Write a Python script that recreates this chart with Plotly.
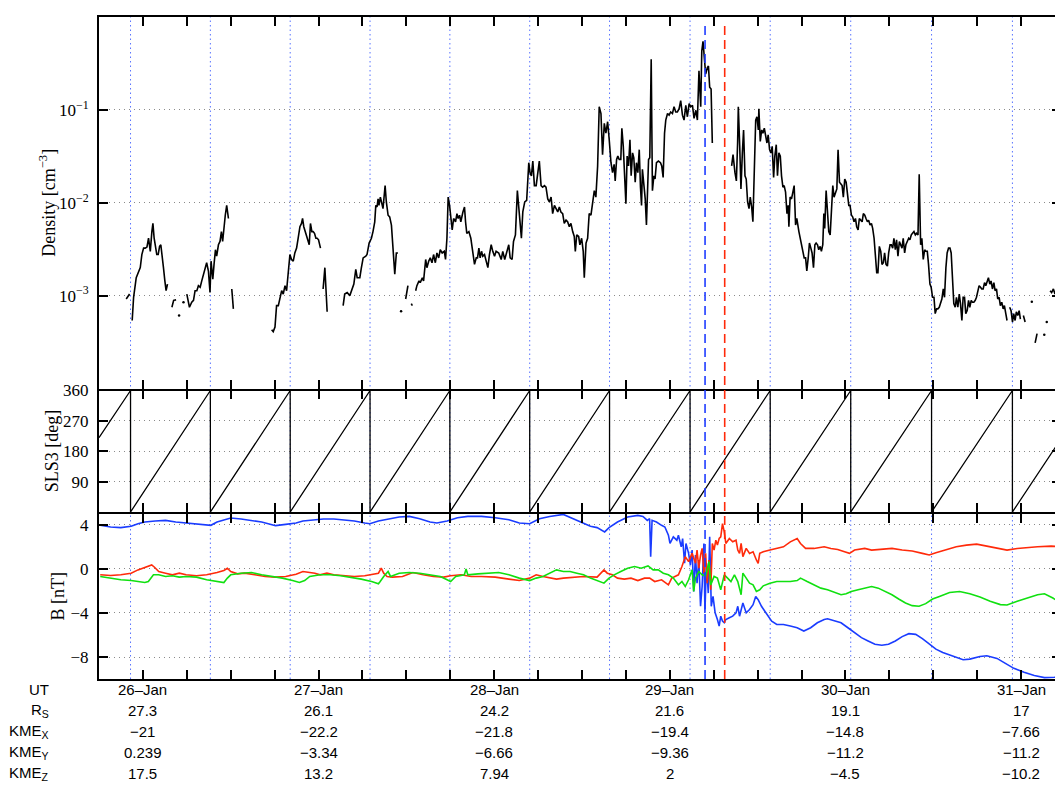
import plotly.graph_objects as go

# ---------------- data (time in day-of-January, UT) ----------------
# Density [cm^-3], one inner list per continuous stretch of data
density_time = [
    [25.905, 25.924],
    [25.939, 25.947, 25.962, 25.975, 25.985, 25.994, 26.004, 26.013, 26.023, 26.032,
     26.042, 26.051, 26.057, 26.064, 26.072, 26.079, 26.087, 26.095, 26.102, 26.110,
     26.117, 26.125, 26.132, 26.140],
    [26.165, 26.175, 26.189],
    [26.250, 26.265, 26.278, 26.288, 26.297, 26.307, 26.316, 26.326, 26.335, 26.345,
     26.354, 26.363, 26.373, 26.382, 26.388, 26.398, 26.405, 26.413, 26.420, 26.430,
     26.439, 26.447, 26.454, 26.462, 26.469, 26.477, 26.487],
    [26.506, 26.515],
    [26.733, 26.742, 26.752, 26.761, 26.771, 26.780, 26.790, 26.799, 26.809, 26.818,
     26.828, 26.837, 26.846, 26.856, 26.865, 26.875, 26.884, 26.894, 26.903, 26.909,
     26.916, 26.924, 26.932, 26.939, 26.947, 26.954, 26.962, 26.969, 26.977, 26.985,
     26.992, 27.000, 27.011],
    [27.026, 27.036, 27.049],
    [27.140, 27.149, 27.163, 27.178, 27.201, 27.212, 27.220, 27.235, 27.244, 27.254,
     27.269, 27.276, 27.288, 27.301, 27.310, 27.320, 27.326, 27.333, 27.339, 27.344,
     27.352, 27.360, 27.367, 27.379, 27.386, 27.396, 27.405, 27.415, 27.424, 27.434,
     27.443, 27.452],
    [27.496, 27.509],
    [27.528, 27.534],
    [27.553, 27.560, 27.572, 27.579, 27.591, 27.598, 27.610, 27.617, 27.627, 27.636,
     27.646, 27.655, 27.665, 27.674, 27.684, 27.693, 27.704, 27.716, 27.723, 27.731,
     27.738, 27.746, 27.754, 27.761, 27.769, 27.780, 27.788, 27.795, 27.803, 27.810,
     27.822, 27.831, 27.837, 27.844, 27.856, 27.867, 27.875, 27.888, 27.898, 27.905,
     27.913, 27.920, 27.928, 27.935, 27.945, 27.954, 27.964, 27.973, 27.983, 27.992,
     28.002, 28.011, 28.026, 28.040, 28.049, 28.060, 28.072, 28.083, 28.091, 28.102,
     28.110, 28.121, 28.132, 28.144, 28.155, 28.163, 28.174, 28.185, 28.197, 28.204,
     28.212, 28.220, 28.229, 28.239, 28.248, 28.257, 28.267, 28.276, 28.286, 28.295,
     28.305, 28.314, 28.324, 28.333, 28.343, 28.352, 28.362, 28.371, 28.380, 28.390,
     28.399, 28.409, 28.418, 28.428, 28.437, 28.447, 28.456, 28.462, 28.470, 28.481,
     28.488, 28.498, 28.507, 28.513, 28.523, 28.532, 28.541, 28.551, 28.560, 28.570,
     28.579, 28.589, 28.598, 28.608, 28.617, 28.627, 28.636, 28.646, 28.655, 28.665,
     28.674, 28.683, 28.689, 28.697, 28.704, 28.712, 28.721, 28.727, 28.735, 28.742,
     28.750, 28.757, 28.765, 28.773, 28.780, 28.788, 28.795, 28.803, 28.810, 28.818,
     28.826, 28.833, 28.839, 28.844, 28.852, 28.860, 28.867, 28.873, 28.879, 28.886,
     28.894, 28.901, 28.909, 28.916, 28.924, 28.935, 28.947, 28.954, 28.962, 28.970,
     28.977, 28.987, 28.996, 29.005, 29.015, 29.024, 29.034, 29.043, 29.053, 29.062,
     29.072, 29.081, 29.091, 29.100, 29.110, 29.119, 29.129, 29.138, 29.148, 29.157,
     29.166, 29.176, 29.182, 29.189, 29.195, 29.204, 29.214, 29.220, 29.227, 29.235,
     29.242],
    [29.352, 29.360, 29.371, 29.379, 29.386, 29.390, 29.398, 29.405, 29.413, 29.420,
     29.428, 29.435, 29.443, 29.451, 29.458, 29.466, 29.473, 29.481, 29.489, 29.496,
     29.504, 29.507, 29.515, 29.523, 29.530, 29.538, 29.545, 29.553, 29.560, 29.568,
     29.576, 29.583, 29.591, 29.598, 29.606, 29.613, 29.621, 29.629, 29.636, 29.644,
     29.651, 29.659, 29.667, 29.674, 29.678, 29.685, 29.693, 29.701, 29.708, 29.716,
     29.723, 29.735, 29.746, 29.757, 29.765, 29.773, 29.780, 29.788, 29.795, 29.803,
     29.810, 29.818, 29.826, 29.833, 29.841, 29.848, 29.856, 29.863, 29.871, 29.877,
     29.882, 29.890, 29.898, 29.905, 29.913, 29.920, 29.928, 29.935, 29.943, 29.951,
     29.958, 29.966, 29.973, 29.981, 29.988, 29.996, 30.004, 30.011, 30.019, 30.026,
     30.034, 30.041, 30.049, 30.057, 30.064, 30.072, 30.079, 30.087, 30.095, 30.102,
     30.110, 30.117, 30.125, 30.132, 30.140, 30.148, 30.155, 30.163, 30.170, 30.178,
     30.185, 30.193, 30.201, 30.208, 30.216, 30.223, 30.231, 30.239, 30.246, 30.254,
     30.261, 30.269, 30.276, 30.284, 30.291, 30.299, 30.307, 30.314, 30.322, 30.329,
     30.337, 30.344, 30.352, 30.360, 30.367, 30.375, 30.382, 30.390, 30.398, 30.405,
     30.413, 30.420, 30.428, 30.435, 30.443, 30.451, 30.458, 30.466, 30.473, 30.481,
     30.488, 30.496, 30.504, 30.511, 30.519, 30.526, 30.534, 30.542, 30.549, 30.557,
     30.564, 30.572, 30.579, 30.587, 30.595, 30.602, 30.610, 30.617, 30.625, 30.632,
     30.640, 30.648, 30.655, 30.663, 30.670, 30.678, 30.685, 30.693, 30.701, 30.708,
     30.716, 30.723, 30.731, 30.739, 30.746, 30.754, 30.761, 30.769, 30.776, 30.784,
     30.792, 30.799, 30.807, 30.814, 30.822, 30.829, 30.837, 30.845, 30.852, 30.860,
     30.867, 30.875, 30.882, 30.890, 30.898, 30.905, 30.913, 30.920],
    [30.935, 30.943, 30.951, 30.958, 30.966, 30.973, 30.981, 30.989, 30.996],
    [31.013, 31.023],
    [31.080, 31.091],
    [31.165, 31.174, 31.184, 31.193, 31.203, 31.212, 31.221, 31.229],
]
density_value = [
    [0.00092, 0.00104],
    [0.00054, 0.00096, 0.00156, 0.00184, 0.00200, 0.00277, 0.00325, 0.00325, 0.00333, 0.00415,
     0.00300, 0.00489, 0.00599, 0.00415, 0.00325, 0.00277, 0.00277, 0.00339, 0.00353, 0.00235,
     0.00200, 0.00144, 0.00113, 0.00133],
    [0.00075, 0.00089, 0.00090],
    [0.00104, 0.00075, 0.00085, 0.00089, 0.00113, 0.00113, 0.00128, 0.00123, 0.00144, 0.00170,
     0.00200, 0.00226, 0.00184, 0.00108, 0.00235, 0.00150, 0.00217, 0.00312, 0.00266, 0.00353,
     0.00383, 0.00489, 0.00383, 0.00575, 0.00734, 0.00937, 0.00677],
    [0.00118, 0.00072],
    [0.00043, 0.00041, 0.00046, 0.00078, 0.00078, 0.00096, 0.00113, 0.00104, 0.00128, 0.00113,
     0.00200, 0.00277, 0.00245, 0.00235, 0.00288, 0.00325, 0.00415, 0.00552, 0.00599, 0.00677,
     0.00552, 0.00489, 0.00415, 0.00399, 0.00353, 0.00599, 0.00489, 0.00489, 0.00469, 0.00415,
     0.00415, 0.00399, 0.00325],
    [0.00118, 0.00200, 0.00067],
    [0.00078, 0.00104, 0.00108, 0.00100, 0.00133, 0.00192, 0.00156, 0.00156, 0.00200, 0.00255,
     0.00266, 0.00277, 0.00368, 0.00415, 0.00489, 0.00624, 0.00937, 0.00900, 0.01100, 0.00937,
     0.01150, 0.00937, 0.00864, 0.01530, 0.01020, 0.00734, 0.00705, 0.00575, 0.00353, 0.00170,
     0.00288, 0.00288],
    [0.00092, 0.00128],
    [0.00082, 0.00078],
    [0.00113, 0.00128, 0.00144, 0.00138, 0.00156, 0.00144, 0.00245, 0.00200, 0.00235, 0.00255,
     0.00226, 0.00277, 0.00226, 0.00288, 0.00255, 0.00312, 0.00288, 0.00300, 0.00245, 0.00415,
     0.01150, 0.00937, 0.00677, 0.00509, 0.00677, 0.00624, 0.00764, 0.00677, 0.00734, 0.00624,
     0.00796, 0.00900, 0.00624, 0.00469, 0.00489, 0.00415, 0.00325, 0.00217, 0.00255, 0.00255,
     0.00325, 0.00255, 0.00300, 0.00266, 0.00277, 0.00235, 0.00200, 0.00277, 0.00353, 0.00300,
     0.00266, 0.00300, 0.00288, 0.00245, 0.00300, 0.00245, 0.00288, 0.00353, 0.00255, 0.00245,
     0.00383, 0.00451, 0.01350, 0.00796, 0.00415, 0.00796, 0.01020, 0.01060, 0.02700, 0.02110,
     0.01950, 0.02810, 0.01530, 0.01530, 0.02030, 0.02810, 0.01530, 0.01470, 0.01530, 0.01470,
     0.01100, 0.01020, 0.01150, 0.00764, 0.00937, 0.00864, 0.00796, 0.00900, 0.00796, 0.00764,
     0.00599, 0.00650, 0.00624, 0.00552, 0.00599, 0.00489, 0.00433, 0.00300, 0.00451, 0.00433,
     0.00353, 0.00415, 0.00300, 0.00156, 0.00368, 0.00415, 0.00764, 0.00734, 0.01020, 0.01350,
     0.01150, 0.02490, 0.10800, 0.09140, 0.03300, 0.07160, 0.05610, 0.07460, 0.04770, 0.02700,
     0.02110, 0.02590, 0.01720, 0.02920, 0.03180, 0.02920, 0.02920, 0.06340, 0.04050, 0.01800,
     0.00976, 0.03180, 0.02490, 0.04770, 0.01950, 0.03440, 0.03050, 0.01660, 0.02700, 0.02110,
     0.03730, 0.01470, 0.00937, 0.02290, 0.01530, 0.01100, 0.00575, 0.01660, 0.02920, 0.03050,
     0.35000, 0.01350, 0.01950, 0.01800, 0.02700, 0.02810, 0.02700, 0.02490, 0.01870, 0.05610,
     0.07770, 0.09140, 0.08770, 0.09500, 0.09140, 0.10800, 0.09500, 0.09500, 0.10300, 0.12600,
     0.08770, 0.07770, 0.11200, 0.08430, 0.11700, 0.10800, 0.11200, 0.08090, 0.09900, 0.07770,
     0.26300, 0.10800, 0.43000, 0.54800, 0.39500, 0.24300, 0.28500, 0.29700, 0.17500, 0.16800,
     0.04400],
    [0.02490, 0.03300, 0.02110, 0.01720, 0.04400, 0.10800, 0.04050, 0.01410, 0.03440, 0.06080,
     0.01950, 0.01800, 0.01020, 0.00864, 0.01150, 0.00900, 0.00624, 0.03440, 0.07770, 0.08430,
     0.06080, 0.10300, 0.04580, 0.06080, 0.05610, 0.06340, 0.05170, 0.04400, 0.05380, 0.03730,
     0.03440, 0.04050, 0.01870, 0.03180, 0.04220, 0.01950, 0.03440, 0.03180, 0.01950, 0.01470,
     0.01530, 0.01300, 0.00764, 0.00937, 0.00552, 0.01150, 0.01100, 0.01300, 0.01530, 0.00575,
     0.00677, 0.00489, 0.00383, 0.00300, 0.00255, 0.00255, 0.00184, 0.00255, 0.00368, 0.00325,
     0.00288, 0.00200, 0.00353, 0.00368, 0.00353, 0.00312, 0.00339, 0.00300, 0.00353, 0.00764,
     0.00530, 0.01350, 0.00796, 0.00489, 0.00451, 0.00796, 0.01530, 0.01150, 0.01250, 0.01410,
     0.03730, 0.01660, 0.01600, 0.01530, 0.01150, 0.01800, 0.01660, 0.01200, 0.00937, 0.00937,
     0.00734, 0.00705, 0.00624, 0.00677, 0.00552, 0.00509, 0.00677, 0.00650, 0.00624, 0.00764,
     0.00734, 0.00677, 0.00624, 0.00650, 0.00575, 0.00599, 0.00530, 0.00415, 0.00255, 0.00177,
     0.00177, 0.00339, 0.00300, 0.00217, 0.00226, 0.00288, 0.00217, 0.00208, 0.00288, 0.00353,
     0.00353, 0.00325, 0.00415, 0.00312, 0.00399, 0.00266, 0.00383, 0.00353, 0.00325, 0.00415,
     0.00288, 0.00353, 0.00383, 0.00415, 0.00399, 0.00451, 0.00469, 0.00489, 0.00451, 0.00469,
     0.00451, 0.02030, 0.00353, 0.00415, 0.00245, 0.00312, 0.00300, 0.00300, 0.00217, 0.00133,
     0.00123, 0.00096, 0.00096, 0.00064, 0.00072, 0.00072, 0.00075, 0.00082, 0.00092, 0.00118,
     0.00096, 0.00200, 0.00288, 0.00325, 0.00325, 0.00288, 0.00156, 0.00082, 0.00075, 0.00096,
     0.00075, 0.00104, 0.00082, 0.00054, 0.00096, 0.00096, 0.00064, 0.00069, 0.00089, 0.00075,
     0.00089, 0.00085, 0.00085, 0.00089, 0.00096, 0.00113, 0.00128, 0.00123, 0.00118, 0.00118,
     0.00138, 0.00128, 0.00144, 0.00156, 0.00133, 0.00144, 0.00118, 0.00138, 0.00113, 0.00118,
     0.00092, 0.00096, 0.00078, 0.00085, 0.00072, 0.00078, 0.00064, 0.00054],
    [0.00075, 0.00069, 0.00052, 0.00064, 0.00054, 0.00067, 0.00061, 0.00069, 0.00056],
    [0.00061, 0.00052],
    [0.00031, 0.00039],
    [0.00113, 0.00108, 0.00118, 0.00104, 0.00123, 0.00100, 0.00123, 0.00113],
]
# isolated density samples
density_dot_time = [26.206, 26.231, 27.470, 31.061, 31.132, 31.146]
density_dot_value = [0.00061, 0.00085, 0.00068, 0.00086, 0.00038, 0.00052]

# SLS3 longitude [deg]: resets (360 -> 0)
sls3_reset_time = [25.9295, 26.3841, 26.8386, 27.2932, 27.7477, 28.2023,
                   28.6568, 29.1153, 29.5716, 30.0301, 30.4903, 30.9506]
sls3_start = (25.75, 220)
sls3_end = (31.229, 218)

# magnetic field components [nT]
blue_time = [25.757, 25.816, 25.874, 25.933, 25.972, 26.011, 26.070, 26.129, 26.187, 26.246,
             26.305, 26.363, 26.387, 26.422, 26.461, 26.500, 26.559, 26.618, 26.676, 26.735,
             26.755, 26.813, 26.872, 26.911, 26.970, 27.028, 27.087, 27.146, 27.204, 27.263,
             27.292, 27.341, 27.400, 27.459, 27.517, 27.576, 27.635, 27.674, 27.732, 27.791,
             27.850, 27.928, 28.006, 28.084, 28.143, 28.202, 28.258, 28.316, 28.394, 28.451,
             28.509, 28.548, 28.586, 28.615, 28.629, 28.654, 28.702, 28.760, 28.818, 28.847,
             28.872, 28.885, 28.891, 28.899, 28.924, 28.953, 28.972, 28.992, 29.001, 29.020,
             29.040, 29.049, 29.065, 29.073, 29.084, 29.092, 29.107, 29.117, 29.127, 29.136,
             29.146, 29.155, 29.165, 29.175, 29.184, 29.194, 29.200, 29.208, 29.219, 29.227,
             29.236, 29.246, 29.258, 29.271, 29.281, 29.290, 29.300, 29.310, 29.319, 29.339,
             29.358, 29.377, 29.387, 29.397, 29.416, 29.435, 29.454, 29.474, 29.489, 29.503,
             29.522, 29.541, 29.561, 29.580, 29.609, 29.647, 29.686, 29.725, 29.763, 29.802,
             29.840, 29.879, 29.898, 29.937, 29.975, 30.014, 30.052, 30.091, 30.129, 30.168,
             30.207, 30.245, 30.284, 30.323, 30.361, 30.400, 30.438, 30.477, 30.515, 30.554,
             30.612, 30.670, 30.708, 30.766, 30.805, 30.863, 30.901, 30.959, 31.017, 31.075,
             31.133, 31.191, 31.225]
blue_value = [3.97, 3.82, 3.76, 3.88, 4.12, 4.27, 4.36, 4.42, 4.27, 4.18,
              4.06, 3.94, 3.97, 4.27, 4.48, 4.63, 4.54, 4.42, 4.27, 4.03,
              3.94, 4.06, 4.18, 4.36, 4.48, 4.54, 4.54, 4.48, 4.36, 4.18,
              4.12, 4.36, 4.57, 4.72, 4.78, 4.57, 4.27, 4.18, 4.36, 4.66,
              4.78, 4.78, 4.66, 4.48, 4.18, 4.12, 4.57, 4.78, 4.96, 4.57,
              4.12, 3.88, 3.76, 3.52, 3.37, 3.76, 4.27, 4.72, 4.87, 4.78,
              4.42, 4.57, 1.12, 4.42, 4.27, 3.97, 3.82, 3.07, 2.32, 2.92,
              2.62, 3.07, 2.02, 2.77, 0.52, 2.32, 1.42, 0.37, 1.72, -2.04,
              1.27, -1.29, 0.82, -3.39, -1.59, 2.32, -3.99, 0.52, -2.19, 2.92,
              -3.39, -2.49, -3.99, -4.59, -5.19, -4.29, -4.74, -4.89, -4.59, -4.44,
              -4.29, -3.99, -3.39, -4.29, -3.09, -3.99, -3.69, -3.24, -2.49, -2.79,
              -3.39, -3.84, -4.29, -4.74, -5.04, -5.04, -5.19, -5.34, -5.64, -5.34,
              -4.89, -4.59, -4.53, -4.74, -4.89, -5.34, -5.79, -6.24, -6.54, -6.84,
              -6.93, -6.84, -6.54, -6.15, -5.88, -5.94, -6.33, -6.84, -7.29, -7.59,
              -7.89, -8.25, -8.19, -7.95, -7.89, -8.13, -8.49, -9.03, -9.39, -9.69,
              -9.87, -9.84, -9.75]

red_time = [25.757, 25.816, 25.874, 25.933, 25.972, 26.011, 26.050, 26.066, 26.090, 26.129,
            26.168, 26.207, 26.246, 26.305, 26.363, 26.422, 26.461, 26.481, 26.500, 26.539,
            26.579, 26.637, 26.696, 26.755, 26.813, 26.872, 26.911, 26.950, 26.979, 27.009,
            27.048, 27.087, 27.146, 27.204, 27.263, 27.302, 27.341, 27.357, 27.371, 27.390,
            27.420, 27.478, 27.537, 27.596, 27.654, 27.713, 27.752, 27.811, 27.869, 27.928,
            28.006, 28.084, 28.143, 28.202, 28.239, 28.278, 28.316, 28.355, 28.394, 28.451,
            28.509, 28.586, 28.625, 28.644, 28.673, 28.702, 28.741, 28.779, 28.818, 28.856,
            28.885, 28.914, 28.953, 28.992, 29.011, 29.049, 29.069, 29.088, 29.107, 29.127,
            29.146, 29.155, 29.165, 29.175, 29.184, 29.194, 29.204, 29.213, 29.223, 29.233,
            29.242, 29.252, 29.262, 29.271, 29.281, 29.290, 29.300, 29.310, 29.319, 29.339,
            29.358, 29.377, 29.387, 29.397, 29.406, 29.416, 29.435, 29.454, 29.474, 29.493,
            29.503, 29.512, 29.532, 29.570, 29.609, 29.647, 29.686, 29.725, 29.744, 29.773,
            29.821, 29.879, 29.917, 29.956, 29.995, 30.023, 30.052, 30.110, 30.149, 30.207,
            30.265, 30.323, 30.380, 30.438, 30.477, 30.515, 30.573, 30.631, 30.689, 30.747,
            30.805, 30.863, 30.920, 30.978, 31.036, 31.094, 31.171, 31.225]
red_value = [-0.53, -0.59, -0.53, -0.38, -0.08, 0.16, 0.37, 0.16, -0.23, -0.38,
             -0.53, -0.38, -0.53, -0.62, -0.53, -0.32, -0.14, 0.07, -0.23, -0.44,
             -0.38, -0.53, -0.68, -0.74, -0.68, -0.47, -0.23, -0.32, -0.38, -0.53,
             -0.38, -0.53, -0.62, -0.68, -0.62, -0.53, -0.38, 0.07, -0.38, -0.68,
             -0.74, -0.68, -0.32, -0.53, -0.68, -0.74, -0.62, -0.53, -0.68, -0.68,
             -0.74, -0.92, -1.05, -0.83, -0.53, -0.68, -0.83, -0.92, -0.83, -0.74,
             -0.68, -0.74, -0.08, -0.38, -0.53, -0.83, -0.92, -0.83, -1.05, -0.83,
             -0.83, -1.14, -0.98, -1.44, -0.83, -0.53, 0.22, 1.12, 0.67, 1.42,
             0.52, 1.72, 0.07, 1.27, 1.87, -0.38, 1.42, -1.29, 0.82, -1.89,
             2.32, 1.72, 2.62, 2.17, 2.77, 2.92, 4.12, 3.37, 2.32, 2.77,
             2.47, 2.62, 1.72, 1.42, 2.32, 1.12, 1.87, 1.42, 1.57, 0.82,
             0.52, 1.42, 1.57, 1.72, 1.87, 2.02, 2.47, 2.77, 2.32, 1.87,
             1.87, 2.02, 1.87, 1.78, 1.57, 1.42, 1.72, 1.87, 1.72, 1.78,
             1.87, 1.72, 1.63, 1.42, 1.27, 1.48, 1.78, 2.02, 2.17, 2.26,
             2.08, 1.87, 1.72, 1.87, 1.96, 2.02, 2.08, 2.02]

green_time = [25.757, 25.816, 25.874, 25.933, 25.972, 26.011, 26.031, 26.060, 26.090, 26.129,
              26.168, 26.207, 26.246, 26.305, 26.363, 26.422, 26.461, 26.481, 26.500, 26.559,
              26.618, 26.676, 26.735, 26.794, 26.852, 26.891, 26.921, 26.950, 27.009, 27.067,
              27.126, 27.185, 27.243, 27.302, 27.341, 27.351, 27.371, 27.396, 27.410, 27.459,
              27.517, 27.576, 27.635, 27.693, 27.732, 27.752, 27.781, 27.830, 27.840, 27.850,
              27.908, 27.967, 28.026, 28.084, 28.143, 28.202, 28.239, 28.278, 28.316, 28.355,
              28.394, 28.432, 28.471, 28.509, 28.548, 28.586, 28.625, 28.654, 28.683, 28.721,
              28.760, 28.799, 28.837, 28.876, 28.905, 28.934, 28.963, 28.992, 29.020, 29.049,
              29.069, 29.088, 29.107, 29.127, 29.136, 29.146, 29.165, 29.184, 29.204, 29.223,
              29.233, 29.252, 29.271, 29.290, 29.310, 29.329, 29.348, 29.368, 29.387, 29.406,
              29.416, 29.435, 29.454, 29.474, 29.493, 29.512, 29.532, 29.570, 29.609, 29.647,
              29.686, 29.725, 29.744, 29.782, 29.821, 29.860, 29.898, 29.937, 29.975, 30.004,
              30.033, 30.072, 30.110, 30.149, 30.187, 30.226, 30.265, 30.303, 30.342, 30.380,
              30.419, 30.457, 30.496, 30.535, 30.593, 30.650, 30.708, 30.766, 30.824, 30.882,
              30.920, 30.978, 31.036, 31.094, 31.133, 31.181, 31.225]
green_value = [-0.68, -0.83, -0.98, -1.05, -1.14, -1.23, -1.14, -0.53, -0.53, -0.68,
               -0.62, -0.74, -0.68, -0.74, -0.98, -1.14, -1.23, -0.83, -0.53, -0.38,
               -0.32, -0.53, -0.68, -0.83, -1.05, -1.23, -1.05, -0.68, -0.53, -0.53,
               -0.62, -0.74, -0.92, -1.14, -1.35, -1.14, -0.68, -0.23, -0.68, -0.38,
               -0.32, -0.38, -0.53, -0.68, -0.98, -1.14, -0.68, -0.53, 0.00, -0.53,
               -0.44, -0.38, -0.32, -0.53, -0.83, -1.05, -0.83, -0.68, -0.38, -0.08,
               -0.23, -0.23, -0.38, -0.53, -0.83, -1.05, -1.29, -0.83, -0.53, -0.23,
               0.07, 0.22, 0.07, 0.28, -0.08, -0.08, -0.38, -0.53, -0.83, -1.44,
               -1.14, -1.59, -0.98, -0.08, -2.04, -0.83, -0.23, -0.53, -0.68, 0.67,
               -1.44, -0.68, -0.83, -1.89, -0.53, -0.83, -1.14, -0.53, -1.14, -2.34,
               -0.38, -0.83, -1.29, -1.44, -2.04, -1.89, -1.53, -1.29, -1.14, -1.14,
               -1.14, -1.05, -0.83, -1.14, -1.44, -1.74, -1.89, -2.13, -2.34, -2.25,
               -2.04, -1.89, -1.74, -1.59, -1.74, -2.04, -2.34, -2.73, -3.09, -3.33,
               -3.39, -3.15, -2.73, -2.49, -2.13, -2.04, -2.25, -2.55, -2.94, -3.24,
               -3.27, -2.94, -2.64, -2.34, -2.25, -2.64, -3.09]

# marked event times (dashed lines)
event_time = [29.2006, 29.3125]
event_color = ["#1f3cff", "#ff2a0a"]

# ephemeris table below the time axis
ephem_day = [26, 27, 28, 29, 30, 31]
ut_label = ["26–Jan", "27–Jan", "28–Jan", "29–Jan", "30–Jan", "31–Jan"]
r_s = [27.3, 26.1, 24.2, 21.6, 19.1, 17]
kme_x = [-21, -22.2, -21.8, -19.4, -14.8, -7.66]
kme_y = [0.239, -3.34, -6.66, -9.36, -11.2, -11.2]
kme_z = [17.5, 13.2, 7.94, 2, -4.5, -10.2]

# ---------------- figure ----------------
# the page body adds an 8 px margin, so the figure is 8 px smaller than the window
W, H = 1055, 777
ML, MR, MT, MB = 91, 0, 1, 106
plot_w = W - ML - MR
plot_h = H - MT - MB
x0 = 25.75
x1 = x0 + plot_w / 176.0
d_bot = [0, 167 / plot_h]
d_mid = [169 / plot_h, 292 / plot_h]
d_top = [294 / plot_h, 1]

fig = go.Figure()

# density
dt, dv = [], []
for ts, vs in zip(density_time, density_value):
    for t, v in zip(ts, vs):
        dt.append(t)
        dv.append(v)
    dt.append(None)
    dv.append(None)
fig.add_trace(go.Scatter(x=dt, y=dv, mode="lines", line=dict(color="black", width=1.6),
                         xaxis="x", yaxis="y", connectgaps=False, showlegend=False))
fig.add_trace(go.Scatter(x=density_dot_time, y=density_dot_value, mode="markers",
                         marker=dict(color="black", size=2.5), xaxis="x", yaxis="y",
                         showlegend=False))

# SLS3 sawtooth
st = [sls3_start[0]]
sv = [sls3_start[1]]
for t in sls3_reset_time:
    st += [t, t]
    sv += [360, 0]
st.append(sls3_end[0])
sv.append(sls3_end[1])
fig.add_trace(go.Scatter(x=st, y=sv, mode="lines", line=dict(color="black", width=1.3),
                         xaxis="x2", yaxis="y2", showlegend=False))

# magnetic field
for tt, vv, col in [(blue_time, blue_value, "#1a3cff"),
                    (red_time, red_value, "#ff2a0a"),
                    (green_time, green_value, "#10e010")]:
    fig.add_trace(go.Scatter(x=tt, y=vv, mode="lines", line=dict(color=col, width=1.6),
                             xaxis="x3", yaxis="y3", showlegend=False))

tick_x = [x0 + 0.25 * k for k in range(0, 30) if x0 + 0.25 * k <= x1]

xcommon = dict(range=[x0, x1], tickvals=tick_x, showticklabels=False, ticks="inside",
               ticklen=9, tickwidth=1.5, tickcolor="black", linecolor="black",
               linewidth=2, mirror="ticks", showgrid=False, zeroline=False)
ycommon = dict(ticks="inside", ticklen=9, tickwidth=1.5, tickcolor="black", showline=True,
               linecolor="black", linewidth=2, mirror="ticks", showgrid=True,
               gridcolor="#8a8a8a", griddash="1px,4px", gridwidth=1, zeroline=False,
               tickfont=dict(family="Liberation Serif", size=17, color="black"),
               ticklabelstandoff=5)

fig.update_layout(
    width=W, height=H,
    margin=dict(l=ML, r=MR, t=MT, b=MB),
    paper_bgcolor="white", plot_bgcolor="white",
    font=dict(family="Liberation Serif", size=17, color="black"),
    xaxis=dict(domain=[0, 1], anchor="y", showline=True, **xcommon),
    # middle panel: its borders are drawn by the neighbouring panels' axis lines
    xaxis2=dict(domain=[0, 1], anchor="y2", matches="x", showline=False, **xcommon),
    xaxis3=dict(domain=[0, 1], anchor="y3", matches="x", showline=True, **xcommon),
    yaxis=dict(domain=d_top, anchor="x", type="log", range=[-4, 0],
               tickvals=[1e-3, 1e-2, 1e-1],
               ticktext=["10<sup>−3</sup>", "10<sup>−2</sup>", "10<sup>−1</sup>"], **ycommon),
    yaxis2=dict(domain=d_mid, anchor="x2", range=[0, 360], tickvals=[90, 180, 270, 360],
                **ycommon),
    yaxis3=dict(domain=d_bot, anchor="x3", range=[-10, 5], tickvals=[-8, -4, 0, 4],
                **ycommon),
)

shapes = []
for t in sls3_reset_time:
    shapes.append(dict(type="line", xref="x", yref="paper", x0=t, x1=t, y0=0, y1=1,
                       line=dict(color="rgba(70,100,255,0.9)", width=1, dash="1.5px,3px"),
                       layer="below"))
for t, c in zip(event_time, event_color):
    shapes.append(dict(type="line", xref="x", yref="paper", x0=t, x1=t, y0=0, y1=0.988,
                       line=dict(color=c, width=1.6, dash="9px,5px"), layer="above"))
fig.update_layout(shapes=shapes)

ann = []
# y-axis titles
for text, dom_ref, xs in [("Density [cm<sup>−3</sup>]", "y domain", -51),
                          ("SLS3 [deg]", "y2 domain", -47),
                          ("B [nT]", "y3 domain", -41)]:
    ann.append(dict(text=text, xref="paper", yref=dom_ref, x=0, y=0.5, xshift=xs,
                    textangle=-90, showarrow=False, xanchor="center", yanchor="middle",
                    font=dict(family="Liberation Serif", size=18, color="black")))


def fmt(v):
    return f"{v:g}".replace("-", "−")


row_labels = ["UT", "R<sub>S</sub>", "KME<sub>X</sub>", "KME<sub>Y</sub>", "KME<sub>Z</sub>"]
row_shift = [-10, -31, -52, -73, -94]
row_values = [ut_label, [fmt(v) for v in r_s], [fmt(v) for v in kme_x],
              [fmt(v) for v in kme_y], [fmt(v) for v in kme_z]]
sans = dict(family="Liberation Sans", size=15, color="black")
for lab, ys, vals in zip(row_labels, row_shift, row_values):
    ann.append(dict(text=lab, xref="paper", yref="paper", x=0, y=0, xshift=-48, yshift=ys,
                    xanchor="right", yanchor="middle", showarrow=False, font=sans))
    for d, v in zip(ephem_day, vals):
        ann.append(dict(text=v, xref="x3", yref="paper", x=d, y=0, yshift=ys,
                        xanchor="center", yanchor="middle", showarrow=False, font=sans))
fig.update_layout(annotations=ann)

fig.write_html("out.html")
